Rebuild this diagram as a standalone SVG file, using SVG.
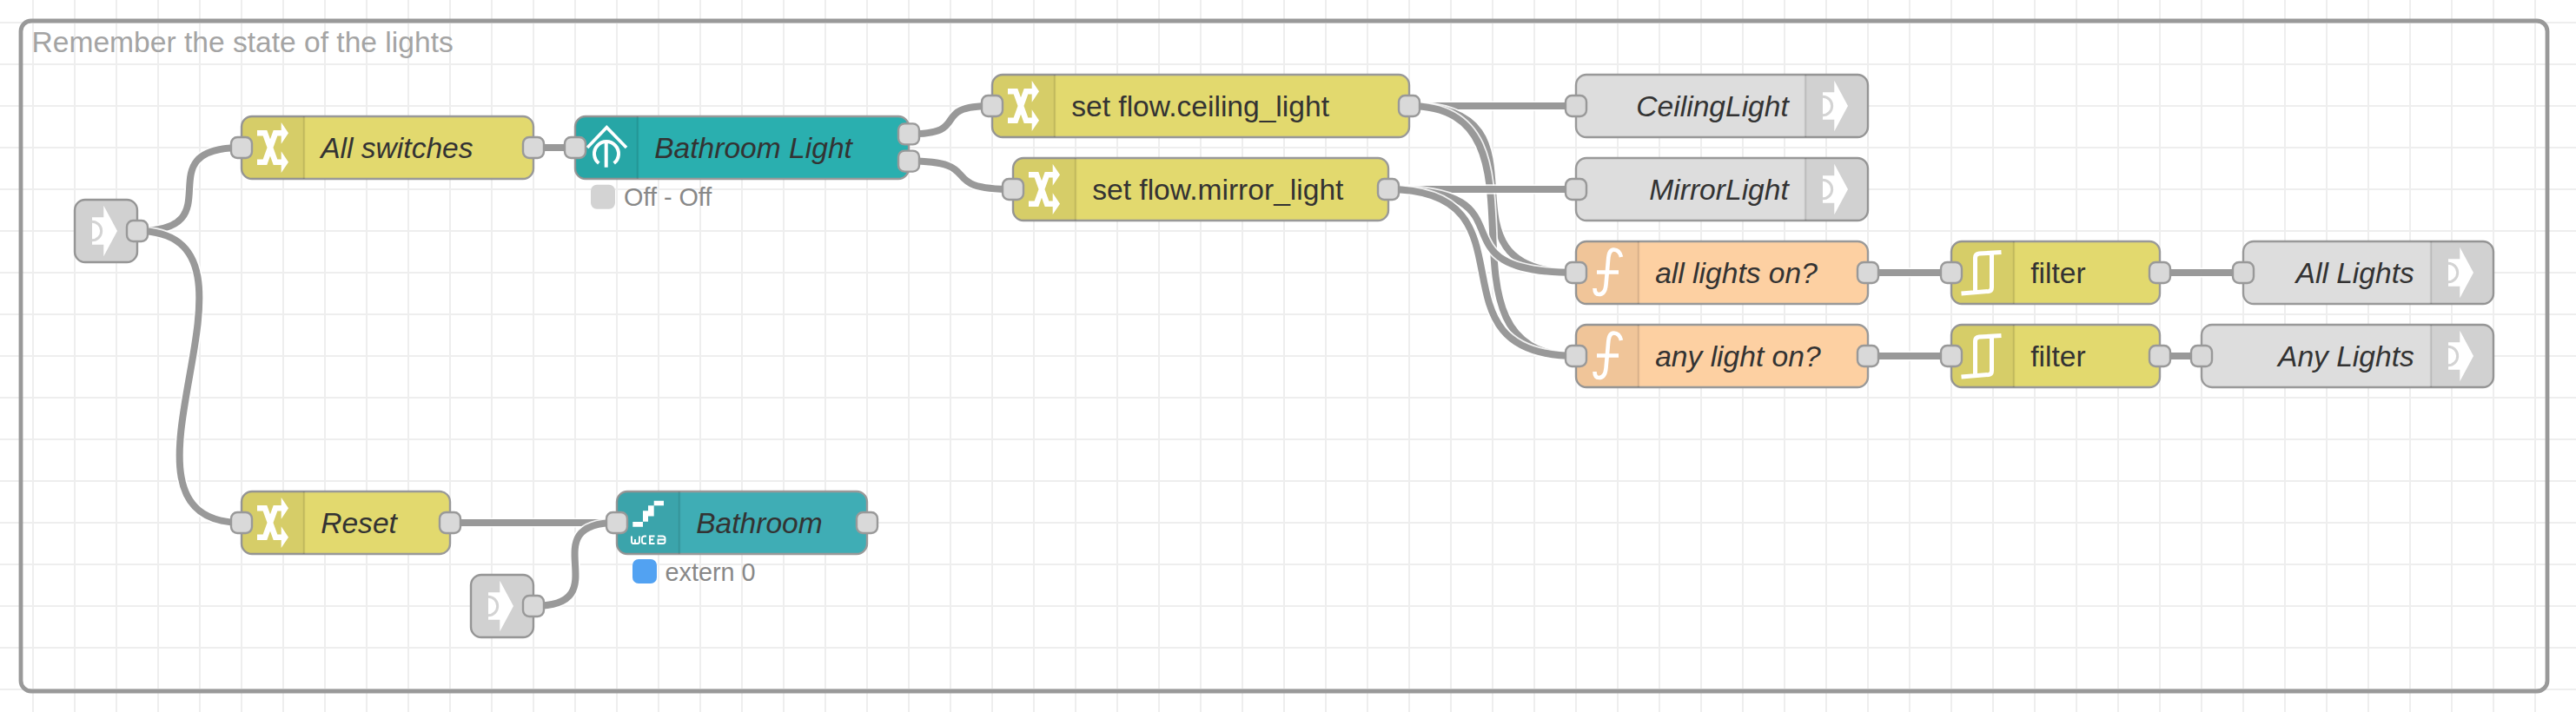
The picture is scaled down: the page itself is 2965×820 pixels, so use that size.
<svg xmlns="http://www.w3.org/2000/svg" xmlns:xlink="http://www.w3.org/1999/xlink" width="2965" height="820" viewBox="0 0 2965 820">
<style>
text{font-family:"Liberation Sans",Arial,sans-serif}
.n{stroke:#999;stroke-width:2.4}
.y{fill:#E2D96E}.o{fill:#FDD0A2}.g{fill:#DDDDDD}.t1{fill:#2AAFAF}.t2{fill:#3FADB5}
.shade{fill:#000;fill-opacity:.05;stroke:none}
.div{stroke:#000;stroke-opacity:.1;stroke-width:2.4;fill:none}
.port{fill:#d9d9d9;stroke:#999;stroke-width:2.4}
.l{font-size:33.6px;fill:#333}
.i{font-style:italic}
.e{text-anchor:end}
.s{font-size:28.8px;fill:#888}
.lo{fill:none;stroke:#fff;stroke-width:11.5;stroke-opacity:.85}
.li{fill:none;stroke:#999;stroke-width:8}
.ic{fill:none;stroke:#fff}
.icf{fill:#fff;stroke:none}
</style>
<defs>
<pattern id="grid" patternUnits="userSpaceOnUse" x="14" y="2" width="48" height="48"><path d="M24 0V48M0 24H48" fill="none" stroke="#eee" stroke-width="2"/></pattern>
<path id="shL" class="shade" d="M12 0H72V72H12A12 12 0 0 1 0 60V12A12 12 0 0 1 12 0Z"/>
<path id="shR" class="shade" d="M0 0H60A12 12 0 0 1 72 12V60A12 12 0 0 1 60 72H0Z"/>
<rect id="p" class="port" x="-12" y="-12" width="24" height="24" rx="7.2"/>
<g id="iLink"><path class="icf" d="M33.3 6.7L49 36L33.3 65.3V51.7H20V20.3H33.3Z"/><path d="M20 25.3A10.7 10.7 0 0 1 20 46.7" fill="none" stroke="#d3d3d3" stroke-width="3"/></g>
<g id="iChange"><path class="ic" stroke-width="6.5" d="M18 19.3H27L39 52.7H47M18 52.7H27L39 19.3H47"/><path class="icf" d="M45.7 7L54 19.3L45.7 31.7ZM45.7 40.3L54 52.7L45.7 65Z"/></g>
<g id="iFilter"><path class="ic" stroke-width="5" d="M57.5 12.5L32 14Q27.5 14.5 27.5 19V58M11.5 60L43 57.5Q46.5 57 46.5 53V14"/></g>
<g id="iFunc"><path class="ic" stroke-width="4.6" d="M52 18C50.500 12 47 9.500 43.500 9.500C38.500 9.500 37.500 15 37 22L34.500 50C33.800 57.500 30.500 61 26.500 61C23 61 21.500 58.500 21.500 54M24 35.500H49"/></g>
</defs>
<rect width="2965" height="820" fill="#fff"/>
<rect width="2965" height="820" fill="url(#grid)"/>
<g id="group-lights">
<rect x="24" y="24" width="2908" height="772" rx="12" fill="none" stroke="#999" stroke-width="4.8"/>
<text x="36.500" y="60" font-size="33.600" fill="#a4a4a4">Remember the state of the lights</text>
</g>
<g id="connectors">
<g id="w1"><path class="lo" d="M158 266C273.300 266 162.700 170 278 170"/><path class="li" d="M158 266C273.300 266 162.700 170 278 170"/></g>
<g id="w2"><path class="lo" d="M158 266C338 266 98 602 278 602"/><path class="li" d="M158 266C338 266 98 602 278 602"/></g>
<g id="w3"><path class="lo" d="M614 170H662"/><path class="li" d="M614 170H662"/></g>
<g id="w4"><path class="lo" d="M1046 154.400C1122 154.400 1066 122 1142 122"/><path class="li" d="M1046 154.400C1122 154.400 1066 122 1142 122"/></g>
<g id="w5"><path class="lo" d="M1046 185.600C1139.200 185.600 1072.800 218 1166 218"/><path class="li" d="M1046 185.600C1139.200 185.600 1072.800 218 1166 218"/></g>
<g id="w6"><path class="lo" d="M1622 122H1814"/><path class="li" d="M1622 122H1814"/></g>
<g id="w7"><path class="lo" d="M1622 122C1802 122 1634 314 1814 314"/><path class="li" d="M1622 122C1802 122 1634 314 1814 314"/></g>
<g id="w8"><path class="lo" d="M1622 122C1802 122 1634 410 1814 410"/><path class="li" d="M1622 122C1802 122 1634 410 1814 410"/></g>
<g id="w9"><path class="lo" d="M1598 218H1814"/><path class="li" d="M1598 218H1814"/></g>
<g id="w10"><path class="lo" d="M1598 218C1775.400 218 1636.600 314 1814 314"/><path class="li" d="M1598 218C1775.400 218 1636.600 314 1814 314"/></g>
<g id="w11"><path class="lo" d="M1598 218C1778 218 1634 410 1814 410"/><path class="li" d="M1598 218C1778 218 1634 410 1814 410"/></g>
<g id="w12"><path class="lo" d="M2150 314H2246"/><path class="li" d="M2150 314H2246"/></g>
<g id="w13"><path class="lo" d="M2150 410H2246"/><path class="li" d="M2150 410H2246"/></g>
<g id="w14"><path class="lo" d="M2486 314H2582"/><path class="li" d="M2486 314H2582"/></g>
<g id="w15"><path class="lo" d="M2486 410H2534"/><path class="li" d="M2486 410H2534"/></g>
<g id="w16"><path class="lo" d="M518 602H710"/><path class="li" d="M518 602H710"/></g>
<g id="w17"><path class="lo" d="M614 698C715.800 698 608.200 602 710 602"/><path class="li" d="M614 698C715.800 698 608.200 602 710 602"/></g>
</g>
<g id="node-link-in-1" transform="translate(86 230)"><rect class="n g" width="72" height="72" rx="12"/><rect class="shade" width="72" height="72" rx="12"/><use href="#iLink"/><use href="#p" x="72" y="36"/></g>
<g id="node-all-switches" transform="translate(278 134)"><rect class="n y" width="336" height="72" rx="12"/><use href="#shL"/><path class="div" d="M72 0V72"/><use href="#iChange"/><use href="#p" x="0" y="36"/><use href="#p" x="336" y="36"/><text class="l i" x="91.200" y="47.700">All switches</text></g>
<g id="node-bathroom-light" transform="translate(662 134)"><rect class="n t1" width="384" height="72" rx="12"/><use href="#shL"/><path class="div" d="M72 0V72"/><path class="ic" stroke-width="3.600" d="M14 36L36.300 12.700L59 36"/><path class="ic" stroke-width="4" d="M27.300 54A14 14 0 1 1 44.700 54M35.700 29.300V58.700"/><use href="#p" x="0" y="36"/><use href="#p" x="384" y="20.400"/><use href="#p" x="384" y="51.600"/><text class="l i" x="91.200" y="47.700">Bathroom Light</text><rect x="18" y="78.700" width="28" height="28" rx="7" fill="#d3d3d3"/><text class="s" x="56" y="102.700">Off - Off</text></g>
<g id="node-set-ceiling" transform="translate(1142 86)"><rect class="n y" width="480" height="72" rx="12"/><use href="#shL"/><path class="div" d="M72 0V72"/><use href="#iChange"/><use href="#p" x="0" y="36"/><use href="#p" x="480" y="36"/><text class="l" x="91.200" y="47.700">set flow.ceiling_light</text></g>
<g id="node-set-mirror" transform="translate(1166 182)"><rect class="n y" width="432" height="72" rx="12"/><use href="#shL"/><path class="div" d="M72 0V72"/><use href="#iChange"/><use href="#p" x="0" y="36"/><use href="#p" x="432" y="36"/><text class="l" x="91.200" y="47.700">set flow.mirror_light</text></g>
<g id="node-ceiling-out" transform="translate(1814 86)"><rect class="n g" width="336" height="72" rx="12"/><use href="#shR" x="264"/><path class="div" d="M264 0V72"/><use href="#iLink" x="264"/><use href="#p" x="0" y="36"/><text class="l i e" x="244.800" y="47.700">CeilingLight</text></g>
<g id="node-mirror-out" transform="translate(1814 182)"><rect class="n g" width="336" height="72" rx="12"/><use href="#shR" x="264"/><path class="div" d="M264 0V72"/><use href="#iLink" x="264"/><use href="#p" x="0" y="36"/><text class="l i e" x="244.800" y="47.700">MirrorLight</text></g>
<g id="node-all-on" transform="translate(1814 278)"><rect class="n o" width="336" height="72" rx="12"/><use href="#shL"/><path class="div" d="M72 0V72"/><use href="#iFunc"/><use href="#p" x="0" y="36"/><use href="#p" x="336" y="36"/><text class="l i" x="91.200" y="47.700">all lights on?</text></g>
<g id="node-any-on" transform="translate(1814 374)"><rect class="n o" width="336" height="72" rx="12"/><use href="#shL"/><path class="div" d="M72 0V72"/><use href="#iFunc"/><use href="#p" x="0" y="36"/><use href="#p" x="336" y="36"/><text class="l i" x="91.200" y="47.700">any light on?</text></g>
<g id="node-filter-1" transform="translate(2246 278)"><rect class="n y" width="240" height="72" rx="12"/><use href="#shL"/><path class="div" d="M72 0V72"/><use href="#iFilter"/><use href="#p" x="0" y="36"/><use href="#p" x="240" y="36"/><text class="l" x="91.200" y="47.700">filter</text></g>
<g id="node-filter-2" transform="translate(2246 374)"><rect class="n y" width="240" height="72" rx="12"/><use href="#shL"/><path class="div" d="M72 0V72"/><use href="#iFilter"/><use href="#p" x="0" y="36"/><use href="#p" x="240" y="36"/><text class="l" x="91.200" y="47.700">filter</text></g>
<g id="node-all-lights" transform="translate(2582 278)"><rect class="n g" width="288" height="72" rx="12"/><use href="#shR" x="216"/><path class="div" d="M216 0V72"/><use href="#iLink" x="216"/><use href="#p" x="0" y="36"/><text class="l i e" x="196.800" y="47.700">All Lights</text></g>
<g id="node-any-lights" transform="translate(2534 374)"><rect class="n g" width="336" height="72" rx="12"/><use href="#shR" x="264"/><path class="div" d="M264 0V72"/><use href="#iLink" x="264"/><use href="#p" x="0" y="36"/><text class="l i e" x="244.800" y="47.700">Any Lights</text></g>
<g id="node-reset" transform="translate(278 566)"><rect class="n y" width="240" height="72" rx="12"/><use href="#shL"/><path class="div" d="M72 0V72"/><use href="#iChange"/><use href="#p" x="0" y="36"/><use href="#p" x="240" y="36"/><text class="l i" x="91.200" y="47.700">Reset</text></g>
<g id="node-link-in-2" transform="translate(542 662)"><rect class="n g" width="72" height="72" rx="12"/><rect class="shade" width="72" height="72" rx="12"/><use href="#iLink"/><use href="#p" x="72" y="36"/></g>
<g id="node-bathroom" transform="translate(710 566)"><rect class="n t2" width="288" height="72" rx="12"/><use href="#shL"/><path class="div" d="M72 0V72"/><path class="icf" d="M42.700 10.700H54V16.300H42.700V28.500H36V34.700H30V40.700H18.300V35H30V22.300H36V16.300H42.700Z"/><path class="ic" stroke-width="1.900" d="M17 51.500V57.500Q17 60 19 60H21V55M21 60H24Q26 60 26 57.500V51.500M34 51.500H31.500Q29 52 29 54V57.500Q29 60 31.500 60H34M43.500 51.500H38V60H43.500M38 55.500H42M47 51.500H53Q55.500 52 55.500 54V57.500Q55.500 60 53 60H47.500V55.500H55"/><use href="#p" x="0" y="36"/><use href="#p" x="288" y="36"/><text class="l i" x="91.200" y="47.700">Bathroom</text><rect x="18" y="78" width="28" height="28" rx="7" fill="#52A2F2"/><text class="s" x="55.500" y="102.700">extern 0</text></g>
</svg>
